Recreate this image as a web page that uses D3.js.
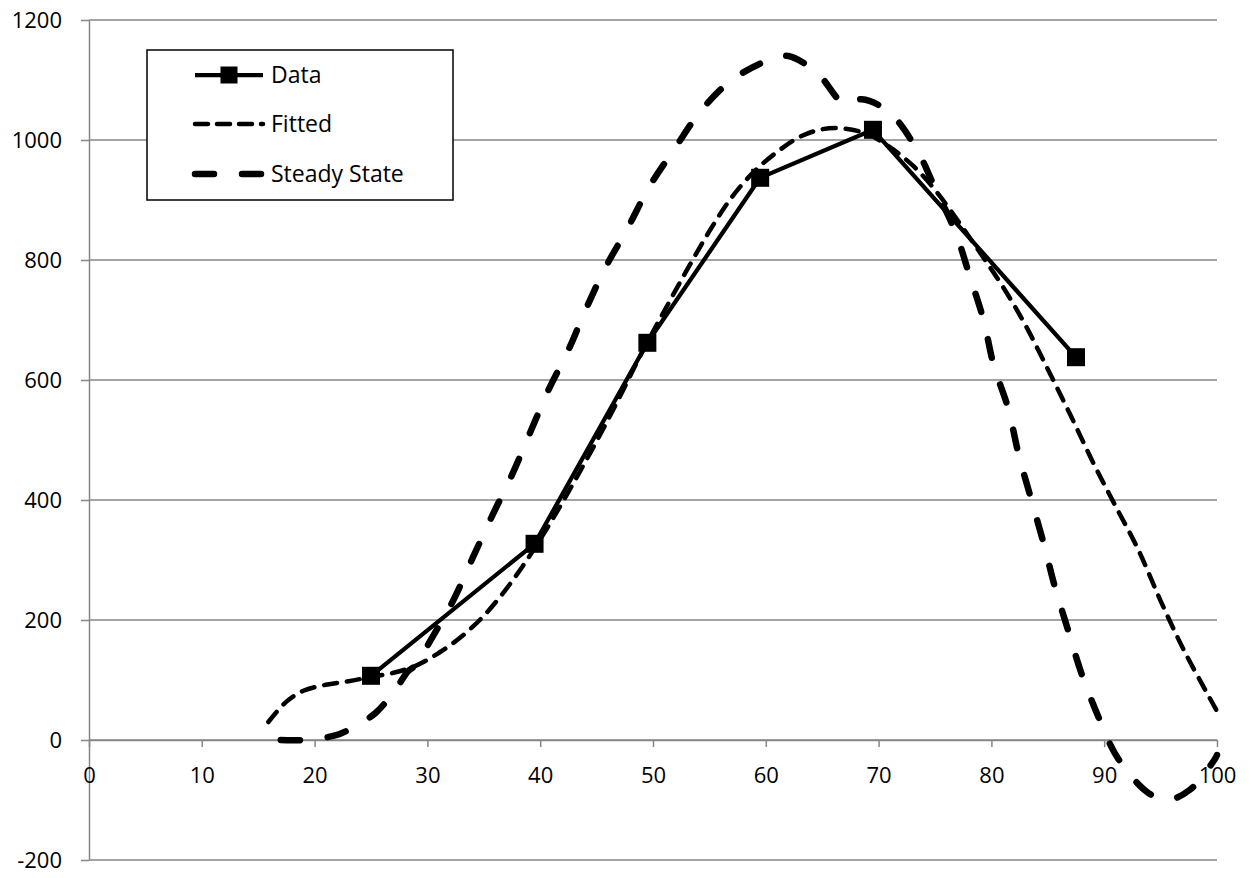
<!DOCTYPE html>
<head>
  <meta charset="utf-8">
  <script src="https://d3js.org/d3.v7.min.js"></script>
  <style>
    body { margin: 0; background: #ffffff; }
    text { font-family: "Open Sans", sans-serif; font-size: 22px; fill: #000000; }
    text.legendLabel { font-size: 23px; }
    .tick line { stroke: #868686; stroke-width: 1.5; }
    path.domain { stroke: #868686; stroke-width: 1.5; }
    .grid line { stroke: #868686; stroke-width: 1.5; }
  </style>
</head>

<body>
  <script>
    // tick labels
    var xTicks = [0, 10, 20, 30, 40, 50, 60, 70, 80, 90, 100];
    var yTicks = [-200, 0, 200, 400, 600, 800, 1000, 1200];

    // Data series (straight segments with square markers)
    var dataX = [25, 39.5, 49.5, 59.5, 69.5, 87.5];
    var dataY = [107, 327, 662, 937, 1017, 638];

    // Fitted series (smoothed)
    var fittedX = [15.9, 17.5, 19, 21, 23, 25, 27, 29, 31, 33, 35, 37, 39, 41, 43, 45, 47, 49, 51, 53, 55, 57, 59, 61, 63, 65, 67, 69, 71, 73, 75, 77, 79, 81, 83, 85, 87, 89, 91, 93, 95, 97, 99, 100];
    var fittedY = [30, 64, 82, 92, 98, 105, 112, 124, 145, 172, 207, 252, 305, 365, 430, 498, 570, 645, 715, 783, 848, 905, 948, 980, 1005, 1018, 1019, 1010, 988, 958, 917, 866, 812, 756, 692, 618, 542, 463, 390, 318, 232, 152, 82, 48];

    // Steady State series (smoothed)
    var steadyX = [17, 19, 21.9, 23.5, 25.4, 27.2, 28.3, 29, 30.3, 32.3, 34, 35.7, 37.5, 39.1, 40.7, 42.5, 44.1, 45.8, 47.8, 49.7, 52, 54.3, 57.2, 60.8, 62, 64.5, 67, 68.5, 70.9, 73.3, 75, 76.8, 78.1, 79.3, 80.2, 81.5, 82.4, 83.5, 84.7, 85.6, 86.8, 88, 89.5, 91.2, 93.9, 95.6, 97.6, 99.8, 100];
    var steadyY = [0, 0, 8, 22, 45, 85, 115, 125, 167, 233, 303, 372, 442, 512, 582, 650, 720, 788, 855, 923, 988, 1050, 1103, 1137, 1140, 1113, 1060, 1068, 1047, 987, 920, 847, 772, 700, 625, 552, 477, 403, 323, 257, 183, 110, 38, -30, -88, -100, -83, -32, -25];

    var width = 1251, height = 878;
    var svg = d3.select("body").append("svg")
      .attr("width", width)
      .attr("height", height);

    var x = d3.scaleLinear().domain([0, 100]).range([89, 1217]);
    var y = d3.scaleLinear().domain([-200, 1200]).range([860, 20]);

    // horizontal gridlines
    svg.append("g")
      .attr("class", "grid")
      .selectAll("line")
      .data(yTicks)
      .enter()
      .append("line")
      .attr("x1", x(0))
      .attr("x2", x(100))
      .attr("y1", d => y(d))
      .attr("y2", d => y(d));

    // y axis
    svg.append("g")
      .attr("transform", `translate(${x(0)},0)`)
      .call(d3.axisLeft(y).tickValues(yTicks).tickSize(8).tickPadding(19).tickSizeOuter(0).tickFormat(d => String(d)))
      .selectAll("text")
      .style("font-size", "22px")
      .style("font-family", "Open Sans, sans-serif");

    // x axis crossing at zero
    svg.append("g")
      .attr("transform", `translate(0,${y(0)})`)
      .call(d3.axisBottom(x).tickValues(xTicks).tickSize(7).tickPadding(20).tickSizeOuter(0).tickFormat(d => String(d)))
      .selectAll("text")
      .style("font-size", "22px")
      .style("font-family", "Open Sans, sans-serif");

    var straight = d3.line().x(d => x(d[0])).y(d => y(d[1]));
    var smooth = d3.line().x(d => x(d[0])).y(d => y(d[1])).curve(d3.curveCatmullRom.alpha(0.5));

    var dataPts = dataX.map((v, i) => [v, dataY[i]]);
    var fittedPts = fittedX.map((v, i) => [v, fittedY[i]]);
    var steadyPts = steadyX.map((v, i) => [v, steadyY[i]]);

    svg.append("path")
      .attr("d", straight(dataPts))
      .attr("fill", "none")
      .attr("stroke", "#000")
      .attr("stroke-width", 4.25)
      .attr("stroke-linejoin", "round");

    svg.selectAll("rect.marker")
      .data(dataPts)
      .enter()
      .append("rect")
      .attr("class", "marker")
      .attr("x", d => x(d[0]) - 9)
      .attr("y", d => y(d[1]) - 9)
      .attr("width", 18)
      .attr("height", 18)
      .attr("fill", "#000");

    svg.append("path")
      .attr("d", smooth(fittedPts))
      .attr("fill", "none")
      .attr("stroke", "#000")
      .attr("stroke-width", 4.5)
      .attr("stroke-linecap", "round")
      .attr("stroke-dasharray", "13,10");

    svg.append("path")
      .attr("d", smooth(steadyPts))
      .attr("fill", "none")
      .attr("stroke", "#000")
      .attr("stroke-width", 6.5)
      .attr("stroke-linecap", "round")
      .attr("stroke-dasharray", "19,28");

    // legend
    var legend = svg.append("g");
    legend.append("rect")
      .attr("x", 147).attr("y", 50)
      .attr("width", 306).attr("height", 150)
      .attr("fill", "#fff")
      .attr("stroke", "#000")
      .attr("stroke-width", 1.5);

    var legendItems = ["Data", "Fitted", "Steady State"];
    var rowY = [75, 124, 174];
    var dashes = [null, "13,9", "19,28"];
    var widths = [4.25, 4.5, 6.5];

    legendItems.forEach((name, i) => {
      legend.append("line")
        .attr("x1", 195).attr("x2", 263)
        .attr("y1", rowY[i]).attr("y2", rowY[i])
        .attr("stroke", "#000")
        .attr("stroke-width", widths[i])
        .attr("stroke-linecap", i == 0 ? "butt" : "round")
        .attr("stroke-dasharray", dashes[i]);
      if (i == 0) {
        legend.append("rect")
          .attr("x", 229 - 8.5).attr("y", rowY[i] - 8.5)
          .attr("width", 17).attr("height", 17)
          .attr("fill", "#000");
      }
      legend.append("text")
        .attr("class", "legendLabel")
        .attr("x", 271)
        .attr("y", rowY[i])
        .attr("dy", "0.36em")
        .text(name);
    });
  </script>
</body>
